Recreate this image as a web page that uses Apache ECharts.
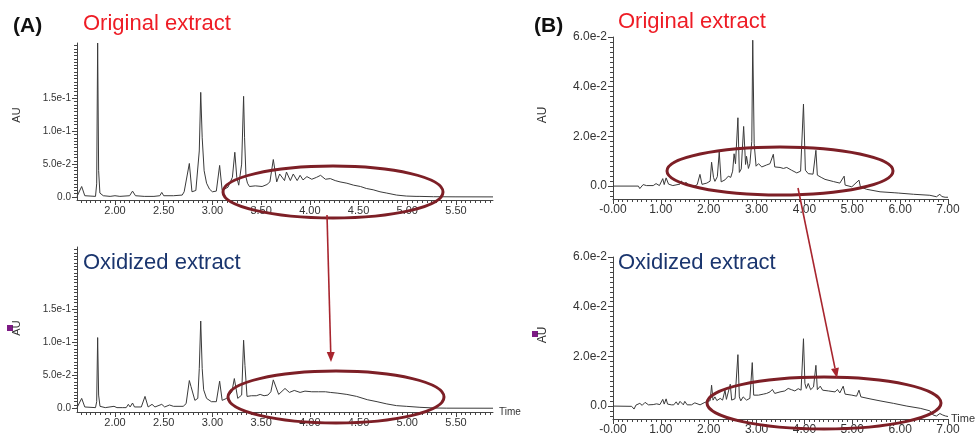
<!DOCTYPE html>
<html>
<head>
<meta charset="utf-8">
<script src="https://cdn.jsdelivr.net/npm/echarts@6/dist/echarts.min.js"></script>
<style>
  html, body { margin: 0; background: #fff; }
  #main { width: 977px; height: 434px; }
</style>
</head>
<body>
<div id="main"></div>
<script>
// chromatogram traces, [time (min), absorbance (AU)]
const origA = [
  [1.61,0.001],[1.63,0.0015],[1.658,0.016],[1.69,0.002],[1.80,0.001],[1.812,0.02],[1.822,0.234],[1.832,0.04],
  [1.845,0.006],[1.88,0.002],[1.95,0.001],[2.00,0.002],[2.05,0.001],[2.15,0.002],[2.18,0.009],[2.21,0.002],
  [2.30,0.001],[2.40,0.001],[2.46,0.002],[2.48,0.007],[2.50,0.002],[2.60,0.002],[2.69,0.003],[2.71,0.008],
  [2.73,0.005],[2.763,0.051],[2.79,0.008],[2.83,0.010],[2.85,0.012],[2.865,0.07],[2.88,0.159],[2.895,0.09],
  [2.915,0.04],[2.94,0.021],[2.97,0.012],[3.00,0.008],[3.04,0.009],[3.074,0.048],[3.10,0.010],[3.16,0.015],
  [3.205,0.03],[3.23,0.068],[3.25,0.03],[3.27,0.018],[3.30,0.05],[3.32,0.153],[3.33,0.09],[3.345,0.03],
  [3.36,0.021],[3.38,0.016],[3.44,0.017],[3.51,0.016],[3.56,0.019],[3.59,0.023],[3.625,0.057],[3.66,0.023],
  [3.69,0.035],[3.71,0.037],[3.74,0.025],[3.76,0.038],[3.80,0.025],[3.83,0.035],[3.87,0.025],[3.90,0.033],
  [3.93,0.026],[3.97,0.031],[4.02,0.027],[4.07,0.030],[4.11,0.033],[4.16,0.027],[4.21,0.028],[4.26,0.025],
  [4.31,0.023],[4.38,0.021],[4.45,0.018],[4.52,0.016],[4.58,0.013],[4.65,0.011],[4.72,0.008],[4.79,0.006],
  [4.89,0.003],[4.99,0.0015],[5.09,0.001],[5.11,0.0025],[5.13,0.001],[5.27,0.0005],[5.50,0.0003],[5.88,0.0002]
];
const oxA = [
  [1.61,0.001],[1.63,0.0015],[1.658,0.015],[1.69,0.002],[1.80,0.001],[1.812,0.01],[1.822,0.107],[1.832,0.02],
  [1.846,0.003],[1.90,0.001],[1.99,0.003],[2.02,0.001],[2.08,0.001],[2.096,0.004],[2.115,0.001],[2.137,0.006],
  [2.155,0.002],[2.18,0.008],[2.20,0.002],[2.27,0.002],[2.308,0.018],[2.34,0.002],[2.38,0.006],[2.41,0.002],
  [2.48,0.006],[2.51,0.002],[2.56,0.005],[2.60,0.003],[2.70,0.003],[2.73,0.007],[2.763,0.042],[2.78,0.033],
  [2.79,0.035],[2.82,0.012],[2.85,0.015],[2.865,0.06],[2.88,0.132],[2.895,0.06],[2.91,0.028],[2.94,0.015],
  [2.99,0.010],[3.04,0.010],[3.074,0.041],[3.10,0.012],[3.146,0.015],[3.20,0.025],[3.225,0.045],[3.26,0.015],
  [3.30,0.02],[3.32,0.103],[3.334,0.065],[3.355,0.018],[3.40,0.019],[3.45,0.019],[3.49,0.021],[3.53,0.019],
  [3.57,0.020],[3.60,0.025],[3.625,0.043],[3.68,0.021],[3.745,0.030],[3.79,0.024],[3.84,0.027],[3.90,0.024],
  [3.95,0.026],[4.02,0.025],[4.09,0.025],[4.16,0.025],[4.21,0.024],[4.28,0.023],[4.38,0.021],[4.48,0.018],
  [4.59,0.013],[4.69,0.010],[4.79,0.0066],[4.89,0.004],[4.99,0.003],[5.13,0.0015],[5.27,0.0005],[5.40,0.0002],
  [5.88,0.0001]
];
const origB = [
  [0,0],[0.53,0],[0.56,-0.001],[0.63,0.0006],[0.70,0.0002],[0.84,0.0002],[0.90,0.001],[0.97,0.0002],
  [1.04,0.003],[1.07,0.0006],[1.11,0.0033],[1.16,0.0008],[1.25,0.0002],[1.40,0.0008],[1.43,0.0021],[1.47,0.0006],
  [1.525,0.0015],[1.60,0.0002],[1.71,0],[1.76,0.0006],[1.817,0.0047],[1.86,0.0007],[1.96,0.0012],[2.03,0.002],
  [2.06,0.0096],[2.10,0.0035],[2.13,0.0019],[2.18,0.0038],[2.22,0.0137],[2.26,0.0017],[2.34,0.0025],[2.41,0.004],
  [2.46,0.0035],[2.50,0.006],[2.53,0.013],[2.56,0.009],[2.61,0.0275],[2.64,0.0055],[2.68,0.0069],[2.73,0.024],
  [2.77,0.0087],[2.79,0.012],[2.83,0.0071],[2.86,0.009],[2.90,0.018],[2.92,0.0587],[2.95,0.017],[2.99,0.008],
  [3.04,0.009],[3.11,0.0077],[3.21,0.0085],[3.28,0.009],[3.35,0.0128],[3.38,0.0077],[3.49,0.0075],[3.56,0.0071],
  [3.63,0.0075],[3.73,0.0064],[3.84,0.0053],[3.92,0.006],[3.98,0.033],[4.02,0.0064],[4.08,0.005],[4.12,0.0055],
  [4.18,0.0048],[4.24,0.0144],[4.27,0.0044],[4.35,0.0035],[4.43,0.0027],[4.61,0.0018],[4.74,0.0012],[4.83,0.004],
  [4.85,0.0004],[4.99,-0.0003],[5.14,0.0024],[5.17,-0.0003],[5.30,-0.0013],[5.58,-0.0023],[5.89,-0.0027],
  [5.93,-0.0019],[5.96,-0.0028],[6.28,-0.0033],[6.62,-0.0037],[6.76,-0.0043],[6.83,-0.0033],[6.87,-0.0042],
  [6.94,-0.0045],[7.0,-0.0045]
];
const oxB = [
  [0,0],[0.39,-0.0001],[0.44,-0.0012],[0.48,0.0004],[0.52,0],[0.56,0.0011],[0.61,0.0003],[0.67,0.0015],
  [0.74,0.0005],[0.84,0.0006],[0.91,0.0009],[0.98,0.0006],[1.04,0.0027],[1.07,0.0008],[1.11,0.0029],[1.14,0.0008],
  [1.22,0.0005],[1.27,0.0005],[1.32,0.0017],[1.36,0.0005],[1.40,0.0019],[1.47,0.0005],[1.50,0.0019],[1.55,0.0005],
  [1.64,0.0005],[1.71,0.0013],[1.82,0.0005],[1.92,0.0015],[2.03,0.0022],[2.06,0.0084],[2.09,0.0024],[2.13,0.0037],
  [2.17,0.0022],[2.24,0.0031],[2.29,0.0024],[2.34,0.0064],[2.37,0.0027],[2.45,0.0088],[2.48,0.0024],[2.55,0.003],
  [2.61,0.0207],[2.64,0.0037],[2.67,0.0021],[2.72,0.0037],[2.79,0.0024],[2.86,0.0031],[2.91,0.0175],[2.94,0.0044],
  [3.04,0.0044],[3.14,0.0048],[3.21,0.0051],[3.28,0.0057],[3.33,0.0067],[3.38,0.0051],[3.49,0.0057],[3.59,0.0061],
  [3.66,0.0071],[3.73,0.0066],[3.80,0.0061],[3.87,0.007],[3.93,0.0064],[3.98,0.0271],[4.01,0.0091],[4.04,0.0071],
  [4.08,0.0091],[4.13,0.0066],[4.19,0.0077],[4.24,0.0164],[4.27,0.0066],[4.33,0.008],[4.38,0.0064],[4.50,0.0061],
  [4.64,0.0057],[4.69,0.0067],[4.74,0.0053],[4.81,0.008],[4.85,0.0048],[4.99,0.0044],[5.09,0.004],[5.14,0.0064],
  [5.18,0.0037],[5.37,0.0029],[5.58,0.0021],[5.86,0.0011],[6.14,0],[6.42,-0.0009],[6.62,-0.0019],[6.69,-0.0036],
  [6.76,-0.004],[6.83,-0.003],[6.89,-0.0036],[6.95,-0.004],[7.0,-0.0042]
];

// tick labels
const xLabelsA = [2.0, 2.5, 3.0, 3.5, 4.0, 4.5, 5.0, 5.5];
const yLabelsA = [0, 0.05, 0.1, 0.15];
const xLabelsB = [0, 1, 2, 3, 4, 5, 6, 7];
const yLabelsB = [0, 0.02, 0.04, 0.06];

function steps(a, b, s) {
  const out = [];
  for (let v = a; v <= b + 1e-9; v += s) out.push(+v.toFixed(4));
  return out;
}

const FONT = '"Liberation Sans", Arial, sans-serif';

const panels = [
  { left: 77, top: 43, width: 416, height: 157, x: [1.61, 5.88], y: [-0.0045, 0.234], data: origA, B: false },
  { left: 77, top: 247, width: 416, height: 165, x: [1.61, 5.88], y: [-0.0056, 0.244], data: oxA, B: false, time: true },
  { left: 613, top: 37, width: 335, height: 162, x: [0, 7], y: [-0.0052, 0.06], data: origB, B: true },
  { left: 613, top: 257, width: 335, height: 162, x: [0, 7], y: [-0.0052, 0.06], data: oxB, B: true, time: true }
];

const xFmt = (B) => (v) => (B && v === 0 ? '-0.00' : v.toFixed(2));
const yFmt = (v) => (v === 0 ? '0.0' : v.toExponential(1));

const grids = [], xAxes = [], yAxes = [], series = [];
panels.forEach((p, i) => {
  grids.push({ left: p.left, top: p.top, width: p.width, height: p.height, containLabel: false, outerBoundsMode: 'none' });
  const xl = p.B ? xLabelsB : xLabelsA;
  const yl = p.B ? yLabelsB : yLabelsA;
  const xm = p.B ? steps(0, 7, 0.1) : steps(1.65, 5.85, 0.05);
  const ym = p.B ? steps(-0.004, 0.06, 0.002) : steps(0, p.y[1], 0.005);
  const fs = p.B ? 12 : 11;
  xAxes.push({
    type: 'value', gridIndex: i, position: 'bottom', min: p.x[0], max: p.x[1],
    axisLine: { onZero: false, lineStyle: { color: '#444', width: 1 } },
    axisTick: { customValues: xm, length: 3, lineStyle: { color: '#444' } },
    axisLabel: { customValues: xl, formatter: xFmt(p.B), fontSize: fs, color: '#333', margin: 5, fontFamily: FONT },
    splitLine: { show: false },
    name: p.time ? 'Time' : '', nameLocation: 'end', nameGap: p.B ? 3 : 6, nameMoveOverlap: false,
    nameTextStyle: { fontSize: p.B ? 11 : 10, color: '#333', fontFamily: FONT }
  });
  yAxes.push({
    type: 'value', gridIndex: i, position: 'left', min: p.y[0], max: p.y[1],
    axisLine: { onZero: false, lineStyle: { color: '#444', width: 1 } },
    axisTick: { customValues: ym, length: 3, lineStyle: { color: '#444' } },
    axisLabel: { customValues: yl, formatter: yFmt, fontSize: p.B ? 12 : 10, color: '#333', margin: 6, fontFamily: FONT },
    splitLine: { show: false }
  });
  series.push({
    type: 'line', xAxisIndex: i, yAxisIndex: i, data: p.data,
    symbol: 'none', silent: true,
    lineStyle: { color: '#3a3a3a', width: 1 }
  });
});
// longer ticks at the labelled values
panels.forEach((p, i) => {
  xAxes.push({
    type: 'value', gridIndex: i, position: 'bottom', offset: 0, min: p.x[0], max: p.x[1],
    axisLine: { show: false, onZero: false }, axisLabel: { show: false }, splitLine: { show: false },
    axisTick: { customValues: p.B ? xLabelsB : xLabelsA, length: 5, lineStyle: { color: '#444' } }
  });
  yAxes.push({
    type: 'value', gridIndex: i, position: 'left', offset: 0, min: p.y[0], max: p.y[1],
    axisLine: { show: false, onZero: false }, axisLabel: { show: false }, splitLine: { show: false },
    axisTick: { customValues: p.B ? yLabelsB : yLabelsA, length: 5, lineStyle: { color: '#444' } }
  });
});

function text(x, y, str, fill, font, rot) {
  return {
    type: 'text', x: x, y: y, rotation: rot || 0, silent: true, z: 100,
    style: { text: str, fill: fill, font: font, align: rot ? 'center' : 'left', verticalAlign: 'middle' }
  };
}
function ring(cx, cy, rx, ry) {
  return {
    type: 'ellipse', silent: true, z: 90, shape: { cx: cx, cy: cy, rx: rx, ry: ry },
    style: { fill: 'none', stroke: '#7d1f26', lineWidth: 3 }
  };
}
function arrow(x1, y1, x2, y2) {
  const a = Math.atan2(y2 - y1, x2 - x1), L = 10, W = 4;
  const bx = x2 - L * Math.cos(a), by = y2 - L * Math.sin(a);
  const nx = -Math.sin(a) * W, ny = Math.cos(a) * W;
  return [
    { type: 'line', silent: true, z: 95, shape: { x1: x1, y1: y1, x2: bx, y2: by }, style: { stroke: '#a8252e', lineWidth: 1.6 } },
    { type: 'polygon', silent: true, z: 95, shape: { points: [[x2, y2], [bx + nx, by + ny], [bx - nx, by - ny]] }, style: { fill: '#a8252e' } }
  ];
}

const RED = '#ee1c25', NAVY = '#1a356e';
const graphic = [
  text(13, 26, '(A)', '#111', 'bold 21px ' + FONT),
  text(83, 24, 'Original extract', RED, '22px ' + FONT),
  text(83, 263, 'Oxidized extract', NAVY, '22px ' + FONT),
  text(534, 26, '(B)', '#111', 'bold 21px ' + FONT),
  text(618, 22, 'Original extract', RED, '22px ' + FONT),
  text(618, 263, 'Oxidized extract', NAVY, '22px ' + FONT),
  text(17, 115, 'AU', '#333', '11px ' + FONT, Math.PI / 2),
  text(17, 328, 'AU', '#333', '11px ' + FONT, Math.PI / 2),
  text(543, 115, 'AU', '#333', '12px ' + FONT, Math.PI / 2),
  text(543, 335, 'AU', '#333', '12px ' + FONT, Math.PI / 2),
  { type: 'rect', silent: true, shape: { x: 7, y: 325, width: 6, height: 6 }, style: { fill: '#7d1a85' } },
  { type: 'rect', silent: true, shape: { x: 532, y: 331, width: 6, height: 6 }, style: { fill: '#7d1a85' } },
  ring(333, 192, 110, 26),
  ring(336, 397, 108, 26),
  ring(780, 171, 113, 24),
  ring(824, 403, 117, 26)
].concat(arrow(327, 215, 331, 362), arrow(798, 188, 837, 378));

const chart = echarts.init(document.getElementById('main'));
chart.setOption({
  animation: false,
  backgroundColor: '#fff',
  textStyle: { fontFamily: FONT },
  grid: grids,
  xAxis: xAxes,
  yAxis: yAxes,
  series: series,
  graphic: graphic
});
</script>
</body>
</html>
